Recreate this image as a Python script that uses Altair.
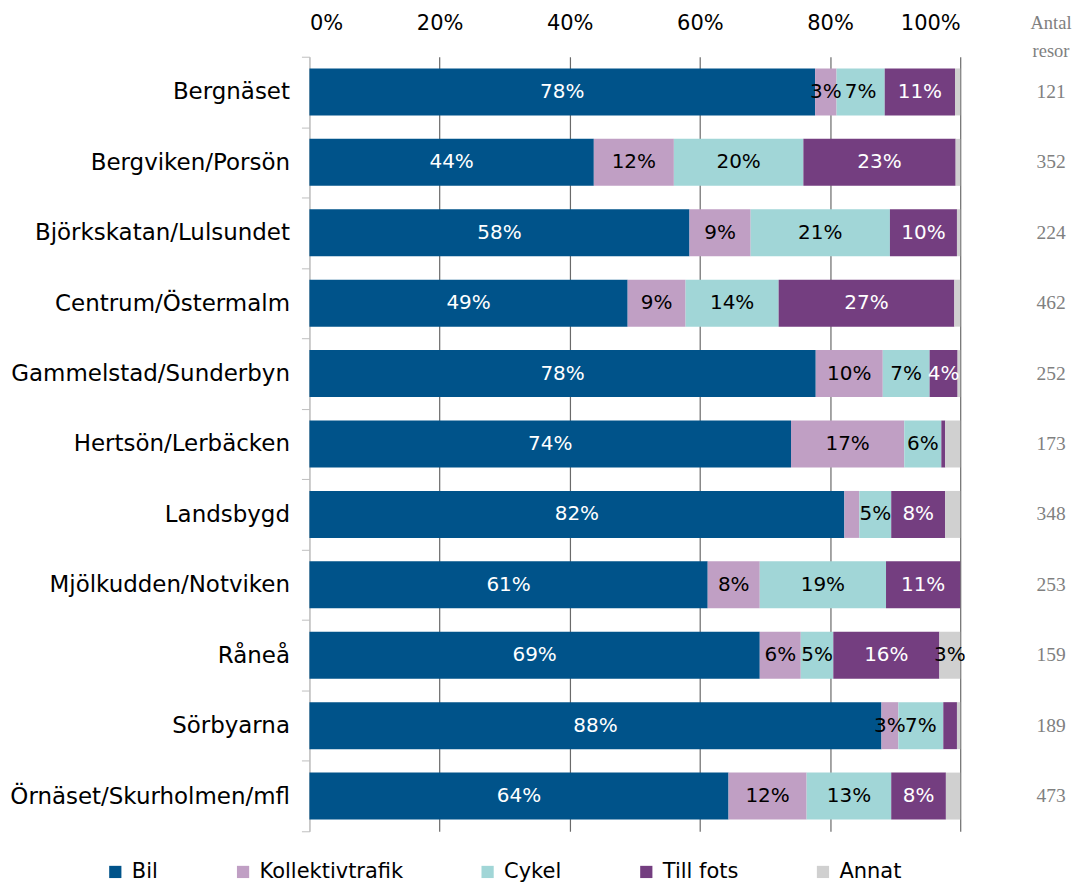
import altair as alt
import pandas as pd

categories = ["Bergnäset", "Bergviken/Porsön", "Björkskatan/Lulsundet", "Centrum/Östermalm",
              "Gammelstad/Sunderbyn", "Hertsön/Lerbäcken", "Landsbygd", "Mjölkudden/Notviken",
              "Råneå", "Sörbyarna", "Örnäset/Skurholmen/mfl"]
modes = ["Bil", "Kollektivtrafik", "Cykel", "Till fots", "Annat"]
mode_colors = ["#00538A", "#C09FC4", "#A1D6D7", "#743E80", "#D0D0D0"]

bil = [77.7, 43.7, 58.4, 48.9, 77.8, 74.0, 82.2, 61.2, 69.2, 87.9, 64.4]
kollektiv = [3.3, 12.3, 9.4, 8.9, 10.3, 17.4, 2.3, 8.0, 6.3, 2.6, 12.0]
cykel = [7.4, 19.9, 21.4, 14.3, 7.2, 5.7, 4.9, 19.4, 5.0, 6.9, 13.0]
till_fots = [10.8, 23.4, 10.3, 27.0, 4.3, 0.6, 8.3, 11.4, 16.3, 2.1, 8.4]
annat = [0.8, 0.7, 0.5, 0.9, 0.4, 2.3, 2.3, 0.0, 3.2, 0.5, 2.2]
antal_resor = [121, 352, 224, 462, 252, 173, 348, 253, 159, 189, 473]
header_top = ["Antal"]
header_bottom = ["resor"]

series = [bil, kollektiv, cykel, till_fots, annat]
rows = []
for i, cat in enumerate(categories):
    for j, m in enumerate(modes):
        v = series[j][i]
        r = int(v + 0.5)
        rows.append({
            "cat": cat, "mode": m, "ord": j, "value": v,
            "label": f"{r}%" if r >= 3 else "",
            "white": m in ("Bil", "Till fots"),
        })
df = pd.DataFrame(rows)
counts = pd.DataFrame({"cat": categories, "n": antal_resor})

FONT = "DejaVu Sans"

y_enc = alt.Y("cat:N", sort=categories, title=None,
              scale=alt.Scale(paddingInner=0, paddingOuter=0),
              axis=alt.Axis(labelFontSize=23, labelFont=FONT, labelColor="black",
                            labelLimit=400, labelPadding=12, tickSize=8, tickColor="#BFBFBF",
                            domainColor="#BFBFBF", tickBand="extent", grid=False))

x_scale = alt.Scale(domain=[0, 100], nice=False)

bars = alt.Chart(df).mark_bar(height=alt.RelativeBandSize(0.667)).encode(
    x=alt.X("value:Q", stack="zero", scale=x_scale, title=None,
            axis=alt.Axis(orient="top", values=[0, 20, 40, 60, 80, 100],
                          labelExpr="datum.value + '%'", labelFontSize=21,
                          labelFont=FONT, labelColor="black", labelPadding=23,
                          ticks=False, domain=False, grid=True,
                          gridColor={"condition": {"test": "datum.value === 0", "value": "#BFBFBF"},
                                     "value": "#6A6A6A"},
                          gridWidth=1.2)),
    y=y_enc,
    color=alt.Color("mode:N", scale=alt.Scale(domain=modes, range=mode_colors),
                    legend=alt.Legend(title=None, orient="none", direction="horizontal",
                                      legendX=-205, legendY=806, symbolType="square",
                                      symbolSize=150, symbolStrokeWidth=0,
                                      labelFontSize=21, labelFont=FONT,
                                      labelColor="black", columnPadding=74, labelOffset=6)),
    order=alt.Order("ord:Q"),
)

base_text = alt.Chart(df).transform_stack(
    stack="value", groupby=["cat"], sort=[alt.SortField("ord")], as_=["x0", "x1"]
).transform_calculate(mid="(datum.x0 + datum.x1) / 2")

text_white = base_text.transform_filter("datum.white").mark_text(
    fontSize=20, font=FONT, color="white").encode(
    x=alt.X("mid:Q", scale=x_scale), y=alt.Y("cat:N", sort=categories), text="label:N")
text_black = base_text.transform_filter("!datum.white").mark_text(
    fontSize=20, font=FONT, color="black").encode(
    x=alt.X("mid:Q", scale=x_scale), y=alt.Y("cat:N", sort=categories), text="label:N")

count_text = alt.Chart(counts).mark_text(
    fontSize=19.5, font="Liberation Serif", color="#808080").encode(
    x=alt.value(743), y=alt.Y("cat:N", sort=categories), text="n:Q")

hdr1 = alt.Chart(pd.DataFrame({"t": header_top})).mark_text(
    fontSize=18.5, font="Liberation Serif", color="#808080").encode(
    x=alt.value(743), y=alt.value(-34), text="t:N")
hdr2 = alt.Chart(pd.DataFrame({"t": header_bottom})).mark_text(
    fontSize=18.5, font="Liberation Serif", color="#808080").encode(
    x=alt.value(743), y=alt.value(-6), text="t:N")

chart = alt.layer(bars, text_white, text_black, count_text, hdr1, hdr2).properties(
    width=652, height=776, padding={"left": 1, "top": 4, "right": 0, "bottom": 3}
).configure_view(stroke=None)

chart.save("out.html", embed_options={"renderer": "svg", "actions": False})
